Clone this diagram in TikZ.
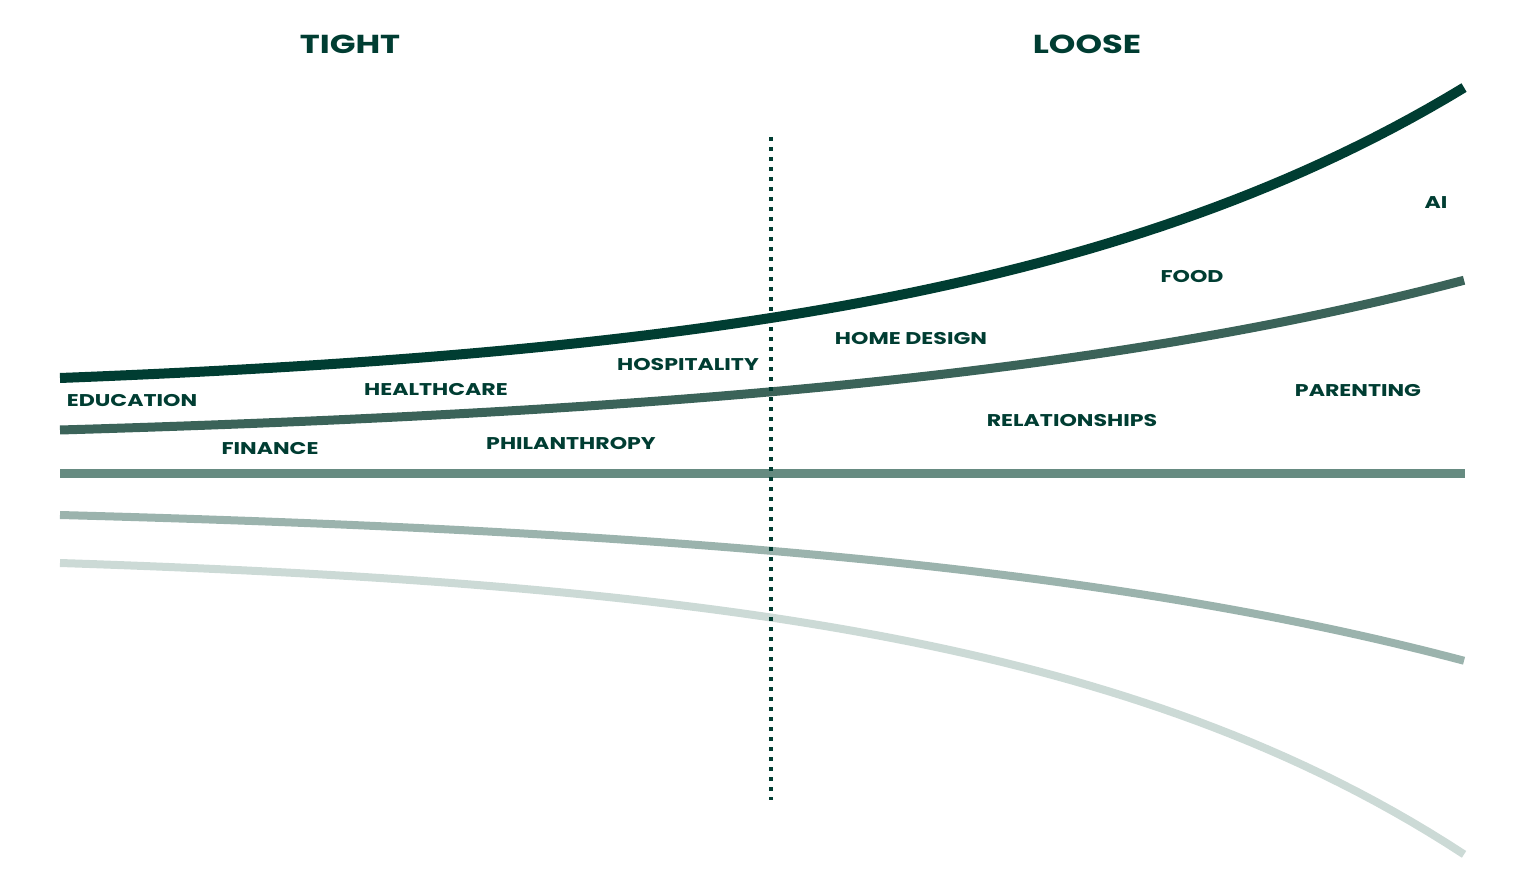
\documentclass[tikz,border=0pt]{standalone}
\usepackage{fontspec}
\setmainfont{Poppins}
\newfontfamily\widefont[FakeStretch=1.3]{Poppins}
\usetikzlibrary{calc}
\definecolor{pine}{HTML}{003D32}
\definecolor{pineB}{HTML}{3B6359}
\definecolor{pineC}{HTML}{668B81}
\definecolor{pineD}{HTML}{9BB3AD}
\definecolor{pineE}{HTML}{CCDAD6}

\begin{document}
\begin{tikzpicture}[x=1pt, y=-1pt,
    head/.style={text=pine, font=\widefont\fontsize{26}{26}\selectfont\bfseries},
    tag/.style={text=pine, font=\widefont\fontsize{17}{17}\selectfont\bfseries},
    band/.style={line width=9pt, line cap=butt}]
    \useasboundingbox (0,0) rectangle (1534,885);

    % the five bands, from top to bottom
    \draw[band, line width=10pt, pine] plot[domain=0:1, samples=80] ({60+1405*\x}, {378-291*(exp(2.75*\x)-1)/(exp(2.75)-1)});
    \draw[band, pineB] plot[domain=0:1, samples=80] ({60+1405*\x}, {430-150*(exp(2.2*\x)-1)/(exp(2.2)-1)});
    \draw[band, pineC] (60,473) -- (1465,473);
    \draw[band, line width=8pt, pineD] plot[domain=0:1, samples=80] ({60+1405*\x}, {515+146*(exp(2.3*\x)-1)/(exp(2.3)-1)});
    \draw[band, line width=8pt, pineE] plot[domain=0:1, samples=80] ({60+1405*\x}, {563+292*(exp(3*\x)-1)/(exp(3)-1)});

    % divider
    \coordinate (top) at (771,137);
    \coordinate (bot) at (771,800);
    \draw[pine, line width=4pt, dash pattern=on 4pt off 6pt] (top) -- (bot);

    \node[head] (tight) at (350,44) {TIGHT};
    \node[head] (loose) at (1087,44) {LOOSE};

    \node[tag] (ai) at (1436,203) {AI};
    \node[tag] (food) at (1192,277) {FOOD};
    \node[tag] (home) at (911,339) {HOME DESIGN};
    \node[tag] (hosp) at (688,365) {HOSPITALITY};
    \node[tag] (health) at (436,390) {HEALTHCARE};
    \node[tag] (edu) at (132,401) {EDUCATION};
    \node[tag] (parent) at (1358,391) {PARENTING};
    \node[tag] (rel) at (1072,421) {RELATIONSHIPS};
    \node[tag] (phil) at (571,444) {PHILANTHROPY};
    \node[tag] (fin) at (270,449) {FINANCE};
\end{tikzpicture}
\end{document}
